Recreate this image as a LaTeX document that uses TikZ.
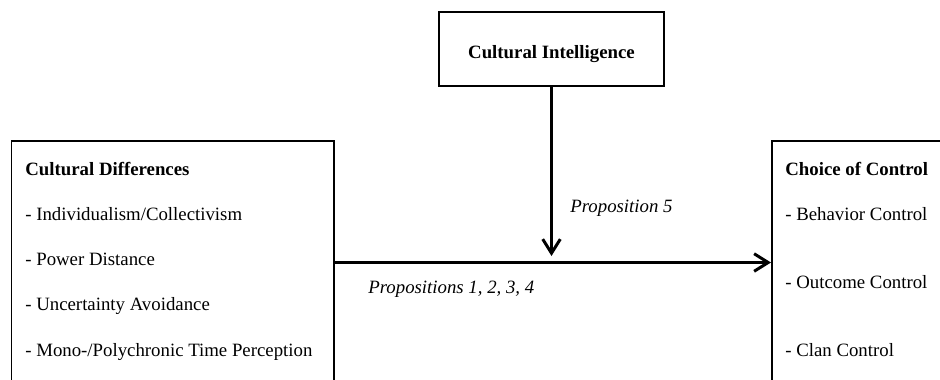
\documentclass[tikz,border=0pt]{standalone}
\usepackage{fontspec}
\setmainfont{Liberation Serif}
\usetikzlibrary{arrows.meta}

\begin{document}
\begin{tikzpicture}[
        box/.style={draw, line width=0.85pt, rectangle, inner sep=0pt},
        item_node/.style={anchor=base west, inner sep=0pt, font=\fontsize{10.7}{13}\selectfont},
        head_node/.style={item_node, font=\fontsize{10.7}{13}\selectfont\bfseries},
        prop_node/.style={item_node, font=\fontsize{10.7}{13}\selectfont\itshape},
        link/.style={line width=1.7pt, -{Straight Barb[length=8pt, width=10pt]}}
    ]
    % Cornice (il disegno e tagliato in basso e a destra)
    \clip (0,0) rectangle (18.8,-7.58);

    % Riquadri
    \node[box, minimum width=4.5cm, minimum height=1.48cm] (ci) at (11.03,-0.98) {};
    \node[box, anchor=north west, minimum width=6.44cm, minimum height=6cm] (diff) at (0.22,-2.8) {};
    \node[box, anchor=north west, minimum width=5cm, minimum height=6cm] (ctrl) at (15.42,-2.8) {};

    % Titoli
    \node[head_node, anchor=base] (citext) at (11.03,-1.17) {Cultural Intelligence};
    \node[head_node] (difftitle) at (0.5,-3.51) {Cultural Differences};
    \node[head_node] (ctrltitle) at (15.7,-3.51) {Choice of Control};

    % Voci a sinistra
    \node[item_node] (d1) at (0.5,-4.40) {- Individualism/Collectivism};
    \node[item_node] (d2) at (0.5,-5.30) {- Power Distance};
    \node[item_node] (d3) at (0.5,-6.20) {- Uncertainty Avoidance};
    \node[item_node] (d4) at (0.5,-7.12) {- Mono-/Polychronic Time Perception};

    % Voci a destra
    \node[item_node] (c1) at (15.7,-4.40) {- Behavior Control};
    \node[item_node] (c2) at (15.7,-5.77) {- Outcome Control};
    \node[item_node] (c3) at (15.7,-7.12) {- Clan Control};

    % Frecce
    \coordinate (join) at (11.03,-5.25);
    \draw[link] (diff.east |- join) -- (ctrl.west |- join);
    \draw[link, shorten >=0.13cm] (ci.south) -- (join);

    % Proposizioni
    \node[prop_node] (p5) at (11.4,-4.25) {Proposition 5};
    \node[prop_node] (p14) at (7.36,-5.86) {Propositions 1, 2, 3, 4};
\end{tikzpicture}
\end{document}
